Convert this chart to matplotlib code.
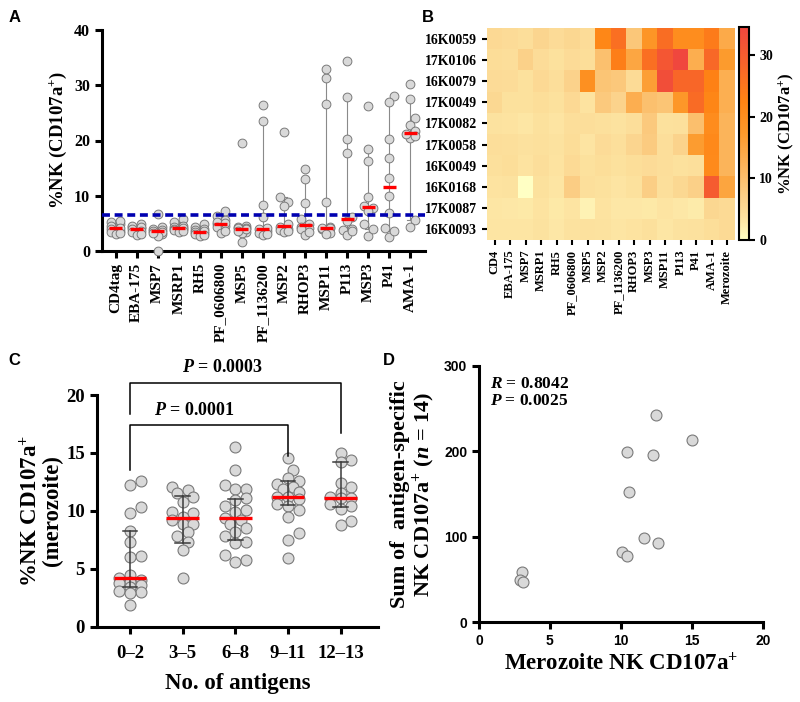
import numpy as np
import matplotlib
matplotlib.use("Agg")
import matplotlib.pyplot as plt
from matplotlib.colors import LinearSegmentedColormap

SERIF = ["Liberation Serif", "DejaVu Serif"]
SANS = ["Liberation Sans", "DejaVu Sans"]
plt.rcParams["font.family"] = SERIF
plt.rcParams["font.weight"] = "bold"
plt.rcParams["axes.labelweight"] = "bold"
plt.rcParams["mathtext.fontset"] = "custom"
plt.rcParams["mathtext.rm"] = "Liberation Serif:bold"
plt.rcParams["mathtext.bf"] = "Liberation Serif:bold"
plt.rcParams["mathtext.it"] = "Liberation Serif:italic:bold"

# ── data ─────────────────────────────────────────────────────────────────────

donors = ["16K0059", "17K0106", "16K0079", "17K0049", "17K0082",
          "17K0058", "16K0049", "16K0168", "17K0087", "16K0093"]

antigens_a = ["CD4tag", "EBA-175", "MSP7", "MSRP1", "RH5", "PF_0606800", "MSP5",
              "PF_1136200", "MSP2", "RHOP3", "MSP11", "P113", "MSP3", "P41", "AMA-1"]

# %NK CD107a+ per antigen (rows, panel A order) and donor (columns)
pct_nk = np.array([
    [5.2, 4.5, 4.8, 5.4, 3.6, 4.2, 4.0, 3.4, 3.0, 3.2],
    [4.8, 4.3, 4.6, 3.9, 3.5, 4.1, 4.4, 3.6, 2.9, 3.1],
    [4.3, 6.7, 3.9, 3.8, 3.0, 3.7, 3.5, 0.0, 2.8, 3.2],
    [5.8, 4.6, 5.2, 4.4, 3.9, 4.0, 4.2, 3.8, 3.5, 3.6],
    [4.8, 3.9, 4.3, 3.8, 3.3, 3.6, 3.4, 3.1, 2.7, 2.9],
    [5.6, 4.8, 6.4, 5.2, 4.3, 4.5, 5.0, 7.3, 3.3, 3.6],
    [4.6, 4.4, 19.5, 3.5, 4.2, 3.3, 3.9, 4.1, 1.6, 3.7],
    [26.4, 23.5, 8.3, 6.2, 3.6, 4.1, 3.9, 3.3, 2.9, 3.1],
    [21.6, 9.8, 8.9, 8.2, 4.0, 4.8, 4.4, 3.8, 3.5, 3.6],
    [8.6, 14.8, 4.9, 13.1, 4.2, 5.8, 4.4, 3.9, 2.9, 3.4],
    [26.6, 31.4, 33.0, 8.9, 3.9, 4.2, 4.3, 4.1, 3.3, 3.0],
    [20.2, 34.4, 27.9, 17.8, 4.0, 6.2, 3.8, 5.4, 2.9, 3.6],
    [18.4, 26.2, 16.2, 9.8, 8.2, 7.8, 4.8, 7.2, 2.7, 4.0],
    [20.2, 13.3, 28.0, 27.0, 9.9, 16.8, 4.1, 6.9, 2.5, 3.7],
    [24.0, 27.5, 22.8, 21.7, 20.4, 21.1, 20.8, 30.3, 5.6, 4.4],
])
merozoite_nk = [14.0, 17.0, 13.0, 13.0, 12.0, 12.0, 12.0, 15.0, 5.0, 5.0]
threshold_a = 6.6

heat_labels = ["CD4", "EBA-175", "MSP7", "MSRP1", "RH5", "PF_0606800", "MSP5", "MSP2",
               "PF_1136200", "RHOP3", "MSP3", "MSP11", "P113", "P41", "AMA-1", "Merozoite"]
heat_source = ["CD4tag", "EBA-175", "MSP7", "MSRP1", "RH5", "PF_0606800", "MSP5", "MSP2",
               "PF_1136200", "RHOP3", "MSP3", "MSP11", "P113", "P41", "AMA-1"]

groups_c = ["0–2", "3–5", "6–8", "9–11", "12–13"]
nk_g02 = [12.6, 12.2, 10.3, 9.8, 8.3, 7.3, 6.1, 6.0, 4.5, 4.2, 4.0, 3.9, 3.8, 3.6, 3.4, 3.1, 3.0, 2.9, 1.9]
nk_g35 = [12.1, 11.8, 11.5, 11.2, 10.8, 9.9, 9.8, 9.5, 9.2, 8.9, 8.9, 8.2, 7.8, 7.3, 6.6, 4.2]
nk_g68 = [15.5, 13.5, 12.2, 11.9, 11.9, 11.1, 10.9, 10.4, 10.1, 9.9, 9.4, 9.2, 8.9, 8.5, 8.2,
          7.8, 7.3, 7.2, 6.2, 5.8, 5.6]
nk_g911 = [14.6, 13.5, 12.8, 12.6, 12.3, 12.1, 11.9, 11.6, 11.2, 11.2, 11.0, 10.6, 10.4, 10.1,
           9.5, 8.1, 7.5, 5.9]
nk_g1213 = [15.0, 14.4, 14.2, 12.4, 12.1, 11.5, 11.2, 11.1, 11.1, 10.6, 10.4, 10.2, 9.1, 8.8]
ci_lo_c = [3.4, 7.2, 7.5, 10.5, 10.3]
ci_hi_c = [8.3, 11.3, 11.0, 12.6, 14.2]

merozoite_d = [3.0, 2.9, 3.1, 12.5, 15.0, 10.4, 12.3, 10.6, 11.6, 12.6, 10.1, 10.4]
antigen_sum_d = [59, 49, 47, 242, 213, 199, 196, 152, 98, 93, 82, 78]

# ── style ────────────────────────────────────────────────────────────────────

DOT_FC, DOT_EC = "#d9d9d9", "#7a7a7a"
MED = "#ff0000"
BLUE = "#0000b0"
W, H = 800, 702


def rect(l, t, r, b):
    return [l / W, 1 - b / H, (r - l) / W, (b - t) / H]


def swarm(values, px_per_unit, diam, max_px):
    vals = np.asarray(values, float)
    step = diam * 0.5
    cands = [0.0]
    k = 1
    while k * step <= max_px + 1e-9:
        cands += [k * step, -k * step]
        k += 1
    placed, offs = [], np.zeros(len(vals))
    for i in np.argsort(vals):
        y = vals[i] * px_per_unit

        def overlap(c):
            return sum(max(0.0, diam - np.hypot(c - px, y - py)) for px, py in placed)

        best = next((c for c in cands if overlap(c) <= 0.15 * diam), None)
        if best is None:
            best = min(cands, key=overlap)
        placed.append((best, y))
        offs[i] = best
    return offs


def style_axes(ax, lw=2.2):
    for s in ("top", "right"):
        ax.spines[s].set_visible(False)
    for s in ("left", "bottom"):
        ax.spines[s].set_linewidth(lw)
    ax.tick_params(width=lw, length=5, direction="out")


fig = plt.figure(figsize=(8, 7.02), dpi=100)

# ── panel A ──────────────────────────────────────────────────────────────────
ax = fig.add_axes(rect(102, 30, 425, 251))
xpx, ypx = 21.0, 5.53
for i, vals in enumerate(pct_nk):
    s = np.sort(vals)
    lo, hi, med = s[1], s[-2], np.median(vals)
    ax.plot([i, i], [lo, hi], color="#8a8a8a", lw=0.8, zorder=2)
    for v in (lo, hi):
        ax.plot([i - 0.15, i + 0.15], [v, v], color="#8a8a8a", lw=0.8, zorder=2)
    offs = swarm(vals, ypx, 8.7, 4.4) / xpx
    ax.scatter(i + offs, vals, s=40, fc=DOT_FC, ec=DOT_EC, lw=0.7, zorder=3, clip_on=False)
    ax.plot([i - 0.31, i + 0.31], [med, med], color=MED, lw=2.4, zorder=5,
            solid_capstyle="butt")
ax.axhline(threshold_a, color=BLUE, lw=2.6, dashes=(2.2, 1.3), zorder=4)
ax.set_xlim(-0.65, 14.7)
ax.set_ylim(0, 40)
ax.set_yticks([0, 10, 20, 30, 40])
ax.set_xticks(range(len(antigens_a)))
ax.set_xticklabels(antigens_a, rotation=90, fontsize=11)
ax.tick_params(axis="y", labelsize=11.5)
style_axes(ax)
ax.set_ylabel("%NK (CD107a$^{+}$)", fontsize=13.5, labelpad=4)

# ── panel B ──────────────────────────────────────────────────────────────────
cmap = LinearSegmentedColormap.from_list("nk", [
    (0.0, "#ffffc4"), (0.1, "#fde3a0"), (0.2, "#fbd088"), (0.35, "#fcb45a"),
    (0.5, "#fd9a2c"), (0.65, "#ff8414"), (0.82, "#f8652a"), (1.0, "#f0473e")])
heat = np.column_stack([pct_nk[antigens_a.index(a)] for a in heat_source] + [merozoite_nk])
axb = fig.add_axes(rect(487, 28, 735, 240))
im = axb.imshow(heat, cmap=cmap, vmin=0, vmax=34.5, aspect="auto", interpolation="nearest")
axb.set_xticks(range(len(heat_labels)))
axb.set_xticklabels(heat_labels, rotation=90, fontsize=9)
axb.set_yticks(range(len(donors)))
axb.set_yticklabels(donors, fontsize=10)
axb.tick_params(width=1.5, length=3.5)
for s in axb.spines.values():
    s.set_visible(False)
cax = fig.add_axes(rect(739, 27, 749, 240))
cb = fig.colorbar(im, cax=cax)
cb.set_ticks([0, 10, 20, 30])
cb.outline.set_linewidth(1.5)
cax.tick_params(width=1.5, length=4, labelsize=10)
cb.set_label("%NK (CD107a$^{+}$)", fontsize=12, labelpad=2)

# ── panel C ──────────────────────────────────────────────────────────────────
axc = fig.add_axes(rect(96.7, 395, 378, 626.7))
xpx, ypx = 52.6, 11.585
for i, vals in enumerate([nk_g02, nk_g35, nk_g68, nk_g911, nk_g1213]):
    med = np.median(vals)
    offs = swarm(vals, ypx, 10.7, 11.0) / xpx
    axc.scatter(i + offs, vals, s=62, fc=DOT_FC, ec=DOT_EC, lw=0.8, zorder=2, clip_on=False)
    axc.plot([i, i], [ci_lo_c[i], ci_hi_c[i]], color="#3a3a3a", lw=1.1, zorder=3)
    for v in (ci_lo_c[i], ci_hi_c[i]):
        axc.plot([i - 0.14, i + 0.14], [v, v], color="#3a3a3a", lw=1.1, zorder=3)
    axc.plot([i - 0.31, i + 0.31], [med, med], color=MED, lw=2.4, zorder=4,
             solid_capstyle="butt")
axc.set_xlim(-0.633, 4.71)
axc.set_ylim(0, 20)
axc.set_yticks([0, 5, 10, 15, 20])
axc.set_xticks(range(len(groups_c)))
axc.set_xticklabels(groups_c)
axc.tick_params(labelsize=13.5)
axc.tick_params(axis="x", pad=8)
style_axes(axc)
axc.set_ylabel("%NK CD107a$^{+}$\n(merozoite)", fontsize=16.5, labelpad=2, linespacing=1.0)
axc.set_xlabel("No. of antigens", fontsize=16.5, labelpad=8)
# significance brackets
for (a, b, top, ya, yb, tx, ty, txt) in [
        (0, 4, 21.07, 18.4, 16.7, 1.75, 22.4, "0.0003"),
        (0, 3, 17.4, 13.5, 14.7, 1.22, 18.7, "0.0001")]:
    axc.plot([a, a, b, b], [ya, top, top, yb], color="black", lw=1.1, clip_on=False)
    axc.text(tx, ty, f"$P$ = {txt}", ha="center", va="center", fontsize=13)

# ── panel D ──────────────────────────────────────────────────────────────────
axd = fig.add_axes(rect(479, 365.7, 762.7, 622.3))
axd.scatter(merozoite_d, antigen_sum_d, s=62, fc=DOT_FC, ec=DOT_EC, lw=0.8, zorder=3)
axd.set_xlim(0, 20)
axd.set_ylim(0, 300)
axd.set_xticks([0, 5, 10, 15, 20])
axd.set_yticks([0, 100, 200, 300])
style_axes(axd)
for lab in axd.get_xticklabels() + axd.get_yticklabels():
    lab.set_fontfamily(SANS)
    lab.set_fontsize(10)
    lab.set_fontweight("bold")
axd.text(0.04, 0.96, "$R$ = 0.8042\n$P$ = 0.0025", transform=axd.transAxes,
         ha="left", va="top", fontsize=12.5, linespacing=1.1)
axd.set_xlabel("Merozoite NK CD107a$^{+}$", fontsize=16.5, labelpad=3)
axd.set_ylabel("Sum of  antigen-specific\nNK CD107a$^{+}$ ($n$ = 14)", fontsize=16,
               labelpad=5, linespacing=1.0)

# panel letters
for x, y, t in [(9, 10, "A"), (422, 10, "B"), (8, 353, "C"), (383, 353, "D")]:
    fig.text(x / W, 1 - y / H, t, family=SANS, weight="bold", fontsize=12, va="top", ha="left")

fig.savefig("out.png", dpi=100, facecolor="white")
